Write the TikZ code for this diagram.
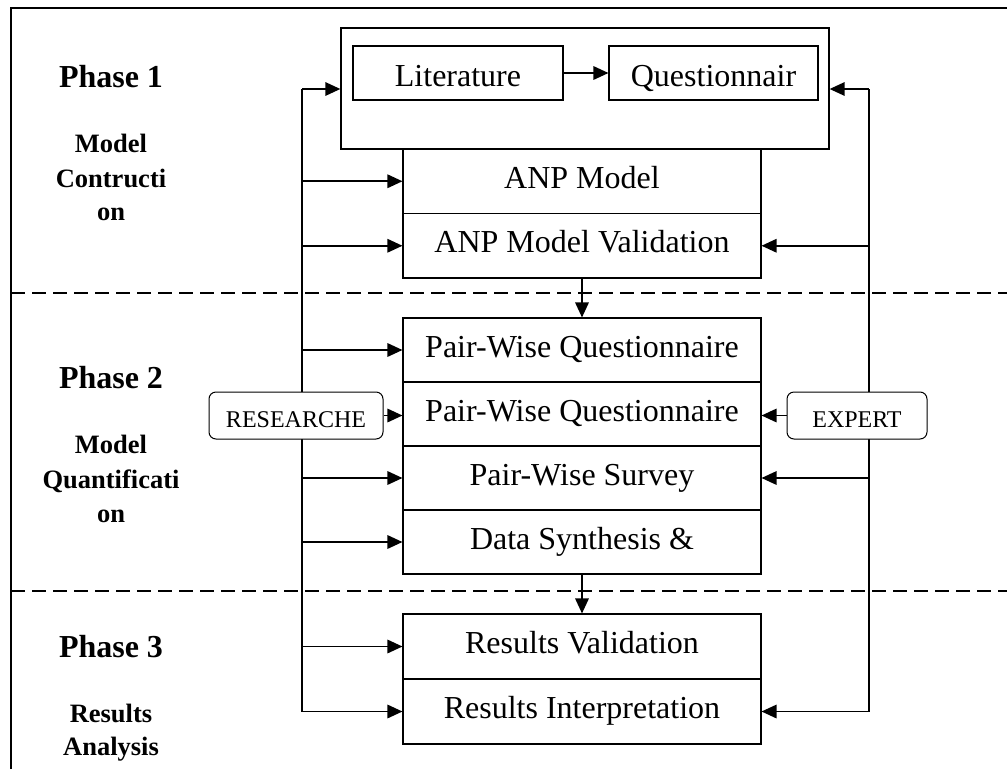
\documentclass[tikz,border=0pt]{standalone}
\usepackage{fontspec}
\setmainfont{Liberation Serif}
\usetikzlibrary{arrows.meta,backgrounds}
\begin{document}
\begin{tikzpicture}[x=1pt,y=-1pt,
  box/.style={draw, line width=1.1pt, inner sep=0pt, minimum width=358pt, minimum height=64pt,
    font=\fontsize{32}{38}\selectfont, text height=22.4pt, text depth=8pt},
  topbox/.style={draw, line width=1.1pt, inner sep=0pt, minimum height=54pt,
    font=\fontsize{32}{38}\selectfont, text height=26pt, text depth=0pt},
  rbox/.style={draw, fill=white, line width=1pt, rounded corners=7pt, inner sep=0pt, minimum height=47pt,
    font=\fontsize{24}{28}\selectfont, text height=23pt, text depth=0pt},
  phase/.style={anchor=base, inner sep=0pt, font=\fontsize{32}{38}\selectfont\bfseries},
  sub/.style={anchor=base, inner sep=0pt, font=\fontsize{26.5}{30}\selectfont\bfseries},
  conn/.style={line width=1.6pt},
  arr/.style={conn, -{Triangle[length=15pt,width=13.5pt]}},
  sep/.style={line width=1.8pt, dash pattern=on 14pt off 7pt}
]
\useasboundingbox (0,0) rectangle (1007,769);
% frame
\draw[line width=1.3pt] (11,769) -- (11,8) -- (1007,8);
% phase separators
\draw[sep] (11,293) -- (1007,293);
\draw[sep] (11,591) -- (1007,591);

% phase labels
\node[phase] (p1) at (111,87) {Phase 1};
\node[sub] (p1a) at (111,152) {Model};
\node[sub] (p1b) at (111,187) {Contructi};
\node[sub] (p1c) at (111,220) {on};
\node[phase] (p2) at (111,388) {Phase 2};
\node[sub] (p2a) at (111,453) {Model};
\node[sub] (p2b) at (111,488) {Quantificati};
\node[sub] (p2c) at (111,522) {on};
\node[phase] (p3) at (111,657) {Phase 3};
\node[sub] (p3a) at (111,722) {Results};
\node[sub] (p3b) at (111,755) {Analysis};

% boxes
\node[draw, line width=1.3pt, inner sep=0pt, minimum width=488pt, minimum height=121pt] (big) at (585,88.5) {};
\node[topbox, minimum width=210pt] (lit) at (458,73) {Literature};
\node[topbox, minimum width=209pt] (que) at (713.5,73) {Questionnair};
\node[box, minimum height=64.5pt] (anp) at (582,181.25) {ANP Model};
\node[box, minimum height=64.5pt] (anpv) at (582,245.75) {ANP Model Validation};
\node[box] (pw1) at (582,350) {Pair-Wise Questionnaire};
\node[box] (pw2) at (582,414) {Pair-Wise Questionnaire};
\node[box] (pws) at (582,478) {Pair-Wise Survey};
\node[box] (ds) at (582,542) {Data Synthesis \&};
\node[box, minimum height=65pt] (rv) at (582,646.5) {Results Validation};
\node[box, minimum height=65pt] (ri) at (582,711.5) {Results Interpretation};
\node[rbox, minimum width=174pt] (res) at (296,415.5) {RESEARCHE\hspace{12pt}};
\node[rbox, minimum width=140pt] (exp) at (857,415.5) {EXPERT};

\coordinate (lt) at (302,89);
\coordinate (rt) at (869,89);

% vertical feedback lines behind the rounded boxes
\begin{scope}[on background layer]
\draw[conn] (lt) -- (lt |- ri.west);
\draw[conn] (rt) -- (rt |- ri.east);
\end{scope}

% connectors
\draw[arr] (lit.east) -- (que.west);
\draw[arr] (lt) -- (lt -| big.west);
\draw[arr] (rt) -- (rt -| big.east);
\foreach \n in {anp,anpv,pw1,pws,ds,rv,ri}
  \draw[arr] (lt |- \n.west) -- (\n.west);
\foreach \n in {anpv,pws,ri}
  \draw[arr] (rt |- \n.east) -- (\n.east);
\draw[arr] (res.east) -- (res.east -| pw2.west);
\draw[arr] (exp.west) -- (exp.west -| pw2.east);
\draw[arr] (anpv.south) -- (pw1.north);
\draw[arr] (ds.south) -- (rv.north);
\end{tikzpicture}
\end{document}
